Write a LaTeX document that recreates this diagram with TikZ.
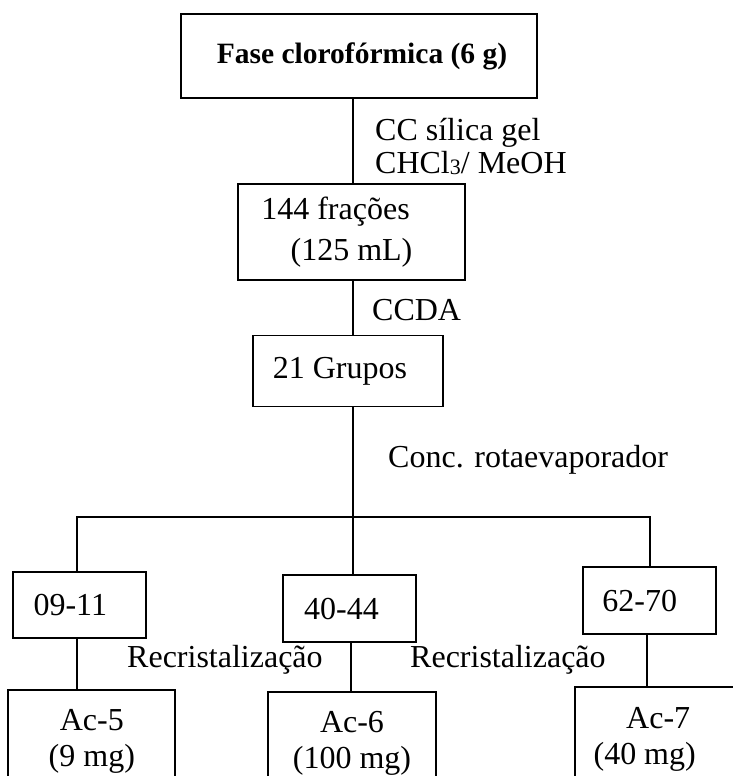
\documentclass[tikz,border=0pt]{standalone}
\usepackage{fontspec}
\setmainfont{Liberation Serif}
\usetikzlibrary{positioning,calc}
\newcommand{\indice}[1]{\raisebox{-1.5pt}{\fontsize{22}{22}\selectfont #1}}
\tikzset{
    caixa/.style={
        rectangle,                % caixa simples, cantos retos
        draw=black,               % borda preta
        line width=1.7pt,         % borda grossa como no fluxograma impresso
        inner sep=0pt,            % o tamanho vem de minimum width/height
        align=center,             % linhas centradas dentro da caixa
        font=\fontsize{32}{37}\selectfont
    },
    rotulo/.style={
        inner sep=0pt,
        anchor=west,              % o texto começa logo à direita da linha
        align=left,
        font=\fontsize{32}{33}\selectfont
    },
    linha/.style={
        line width=1.7pt          % mesmas linhas das caixas
    }
}

\begin{document}
\begin{tikzpicture}[x=1pt,y=-1pt]
    \useasboundingbox (0,0) rectangle (733,776);

    \node[caixa, minimum width=356pt, minimum height=84pt, font=\fontsize{29.5}{34}\selectfont\bfseries] (fase) at (359,56) {\hspace*{6pt}Fase clorofórmica (6 g)};
    \node[caixa, below=84pt of fase, xshift=-7.5pt, minimum width=227pt, minimum height=96pt, font=\fontsize{32}{41}\selectfont] (fracoes) {144 frações\hspace*{32pt}\\(125 mL)};
    \node[caixa, below=54pt of fracoes, xshift=-3.5pt, minimum width=190pt, minimum height=71pt] (grupos) {21 Grupos\hspace*{16pt}};

    \node[caixa, below=167pt of grupos, xshift=1.5pt, minimum width=133pt, minimum height=67pt] (g2) {40-44\hspace*{16pt}};
    \node[caixa, left=135pt of g2, yshift=3.5pt, minimum width=133pt, minimum height=66pt] (g1) {09-11\hspace*{19pt}};
    \node[caixa, right=165pt of g2, yshift=8pt, minimum width=133pt, minimum height=67pt] (g3) {62-70\hspace*{19pt}};

    \node[caixa, below=50pt of g1, xshift=12pt, minimum width=167pt, minimum height=104pt, font=\fontsize{32}{36}\selectfont] (ac5) {Ac-5\\(9 mg)};
    \node[caixa, below=48pt of g2, xshift=2.5pt, minimum width=168pt, minimum height=104pt, font=\fontsize{32}{36}\selectfont] (ac6) {Ac-6\\(100 mg)};
    \node[caixa, below=51pt of g3, xshift=9pt, minimum width=167pt, minimum height=105pt, font=\fontsize{32}{36}\selectfont] (ac7) {Ac-7\\(40 mg)\hspace*{27pt}};

    \node[rotulo] (coluna) at (375,146.5) {CC sílica gel\\CHCl\indice{3}/ MeOH};
    \node[rotulo] (ccda) at (372,310) {CCDA};
    \node[rotulo] (conc) at (388,460) {Conc. rotaevaporador};
    \node[rotulo] (recri1) at (127,660) {Recristalização};
    \node[rotulo] (recri2) at (410,660) {Recristalização};

    \coordinate (tronco) at (353,0);
    \coordinate (barraA) at (77,517);
    \coordinate (barraC) at (650,517);
    \coordinate (ramoB) at (351,0);
    \coordinate (ramoC) at (647,0);

    \draw[linha] (fase.south -| tronco) -- (fracoes.north -| tronco);
    \draw[linha] (fracoes.south -| tronco) -- (grupos.north -| tronco);
    \draw[linha] (grupos.south -| tronco) -- (g2.north -| tronco);
    \draw[linha] (g1.north -| barraA) -- (barraA) -- (barraC) -- (g3.north -| barraC);
    \draw[linha] (g1.south -| barraA) -- (ac5.north -| barraA);
    \draw[linha] (g2.south -| ramoB) -- (ac6.north -| ramoB);
    \draw[linha] (g3.south -| ramoC) -- (ac7.north -| ramoC);
\end{tikzpicture}
\end{document}
